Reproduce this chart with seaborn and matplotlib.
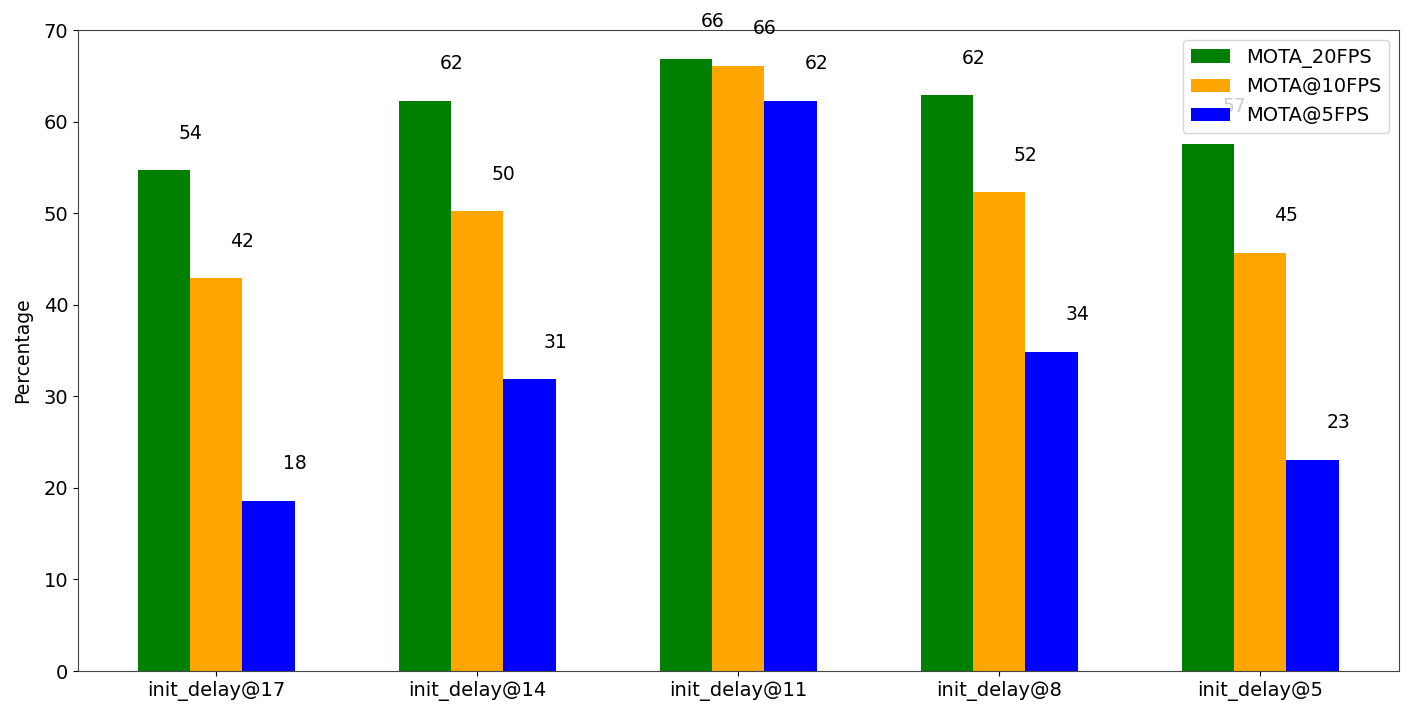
import matplotlib
matplotlib.use("Agg")
from matplotlib import pyplot as plt
import pandas as pd
import seaborn as sns

# data
delays = ["init_delay@17", "init_delay@14", "init_delay@11", "init_delay@8", "init_delay@5"]
mota_20fps = [54.7, 62.3, 66.9, 62.9, 57.6]
mota_10fps = [42.9, 50.2, 66.1, 52.3, 45.7]
mota_5fps = [18.6, 31.9, 62.3, 34.9, 23.1]
series_names = ["MOTA_20FPS", "MOTA@10FPS", "MOTA@5FPS"]
colors = ["green", "orange", "blue"]

FONT = 14


def main():
    df = pd.DataFrame({"delay": delays * 3,
                       "value": mota_20fps + mota_10fps + mota_5fps,
                       "series": [s for s in series_names for _ in delays]})

    fig, ax = plt.subplots(figsize=(14.17, 7.2), dpi=100)
    fig.subplots_adjust(left=0.055, right=0.987, bottom=0.068, top=0.958)

    sns.barplot(data=df, x="delay", y="value", hue="series", palette=colors,
                saturation=1, width=0.6, gap=0, ax=ax, errorbar=None)

    # value labels, truncated like the original, centred on each bar's right edge
    for container in ax.containers:
        for bar in container:
            h = bar.get_height()
            ax.text(bar.get_x() + bar.get_width(), h + 3.0, str(int(h)),
                    ha="center", va="bottom", fontsize=13.5)

    ax.set_xlim(-0.53, 4.53)
    ax.set_ylim(0, 70)
    ax.set_xlabel("")
    ax.set_ylabel("Percentage", fontsize=13.5, labelpad=8)
    ax.tick_params(labelsize=FONT)

    leg = ax.get_legend()
    handles = leg.legend_handles
    labels = [t.get_text() for t in leg.texts]
    ax.legend(handles, labels, loc="upper right", fontsize=FONT)

    for spine in ax.spines.values():
        spine.set_color("#444444")

    plt.savefig("out.png", dpi=100)
    plt.close()


if __name__ == "__main__":
    main()
